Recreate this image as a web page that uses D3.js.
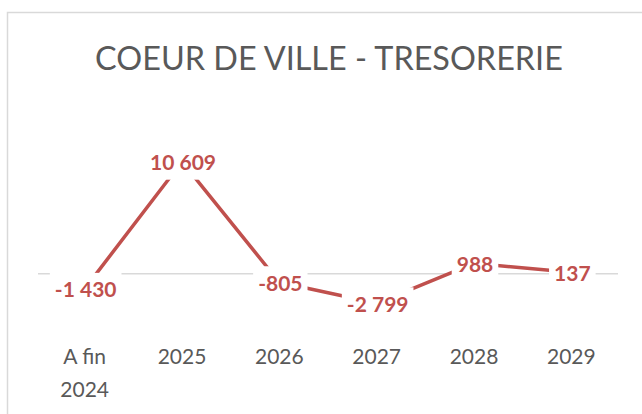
<!DOCTYPE html>
<html>
<head>
<meta charset="utf-8">
<script src="https://cdn.jsdelivr.net/npm/d3@7"></script>
<style>
  html, body { margin: 0; padding: 0; background: #fff; }
  svg { display: block; }
</style>
</head>
<body>
<div id="chart"></div>
<script>
// Données
const categories = ["A fin 2024", "2025", "2026", "2027", "2028", "2029"];
const tresorerie = [-1430, 10609, -805, -2799, 988, 137];
const titre = "COEUR DE VILLE - TRESORERIE";

const data = categories.map((c, i) => ({ cat: c, value: tresorerie[i] }));

const W = 642, H = 414;
const font = "Lato, 'Open Sans', 'DejaVu Sans', sans-serif";
const red = "#c0504d";
const grey = "#595959";

const svg = d3.select("#chart")
    .append("svg")
    .attr("width", W)
    .attr("height", H);

// cadre du graphique (coupé à droite et en bas)
svg.append("rect")
    .attr("x", 7.5)
    .attr("y", 12.5)
    .attr("width", 700)
    .attr("height", 500)
    .attr("fill", "#fff")
    .attr("stroke", "#d9d9d9")
    .attr("stroke-width", 1.5);

// titre, taille ajustée pour occuper la même largeur
const title = svg.append("text")
    .attr("x", 329)
    .attr("y", 70)
    .attr("text-anchor", "middle")
    .style("font-family", font)
    .style("font-weight", 400)
    .style("font-size", "30px")
    .attr("fill", grey)
    .text(titre);
const tw = title.node().getComputedTextLength();
title.style("font-size", (30 * 468 / tw) + "px");

const x = d3.scaleBand()
    .domain(categories)
    .range([36, 620]);

const y = d3.scaleLinear()
    .domain([-4000, 12000])
    .range([316, 147]);

// ligne du zéro
svg.append("line")
    .attr("x1", 38)
    .attr("x2", 618)
    .attr("y1", y(0))
    .attr("y2", y(0))
    .attr("stroke", "#d9d9d9")
    .attr("stroke-width", 1.5);

// axe des catégories
const axis = svg.append("g")
    .attr("transform", "translate(0,340)")
    .call(d3.axisBottom(x).tickSize(0).tickPadding(0));
axis.select(".domain").remove();
axis.selectAll("text")
    .style("font-family", font)
    .style("font-size", "21px")
    .attr("fill", grey)
    .attr("y", 0)
    .attr("dy", null)
    .each(function(d) {
        const t = d3.select(this);
        const i = d.lastIndexOf(" ");
        const lines = i > 0 ? [d.slice(0, i), d.slice(i + 1)] : [d];
        t.text(null);
        lines.forEach((l, k) => {
            t.append("tspan")
                .attr("x", 0)
                .attr("y", 24 + k * 33)
                .text(l);
        });
    });

const cx = d => x(d.cat) + x.bandwidth() / 2;

// courbe
const line = d3.line()
    .x(cx)
    .y(d => y(d.value));

svg.append("path")
    .datum(data)
    .attr("d", line)
    .attr("fill", "none")
    .attr("stroke", red)
    .attr("stroke-width", 3.5)
    .attr("stroke-linejoin", "round");

// étiquettes de données centrées sur les points, fond blanc
const fmt = v => d3.format(",")(v).replace(/,/g, " ").replace("−", "-");

const labels = svg.selectAll(".lbl")
    .data(data)
    .enter()
    .append("g")
    .attr("class", "lbl")
    .attr("transform", d => `translate(${cx(d) + 1},${y(d.value) + 1})`);

labels.append("text")
    .attr("text-anchor", "middle")
    .attr("dy", "0.36em")
    .style("font-family", font)
    .style("font-weight", "bold")
    .style("font-size", "21px")
    .attr("fill", red)
    .text(d => fmt(d.value));

labels.each(function() {
    const g = d3.select(this);
    const b = g.select("text").node().getBBox();
    g.insert("rect", "text")
        .attr("x", b.x - 5)
        .attr("y", -17)
        .attr("width", b.width + 10)
        .attr("height", 34)
        .attr("fill", "#fff");
});
</script>
</body>
</html>
